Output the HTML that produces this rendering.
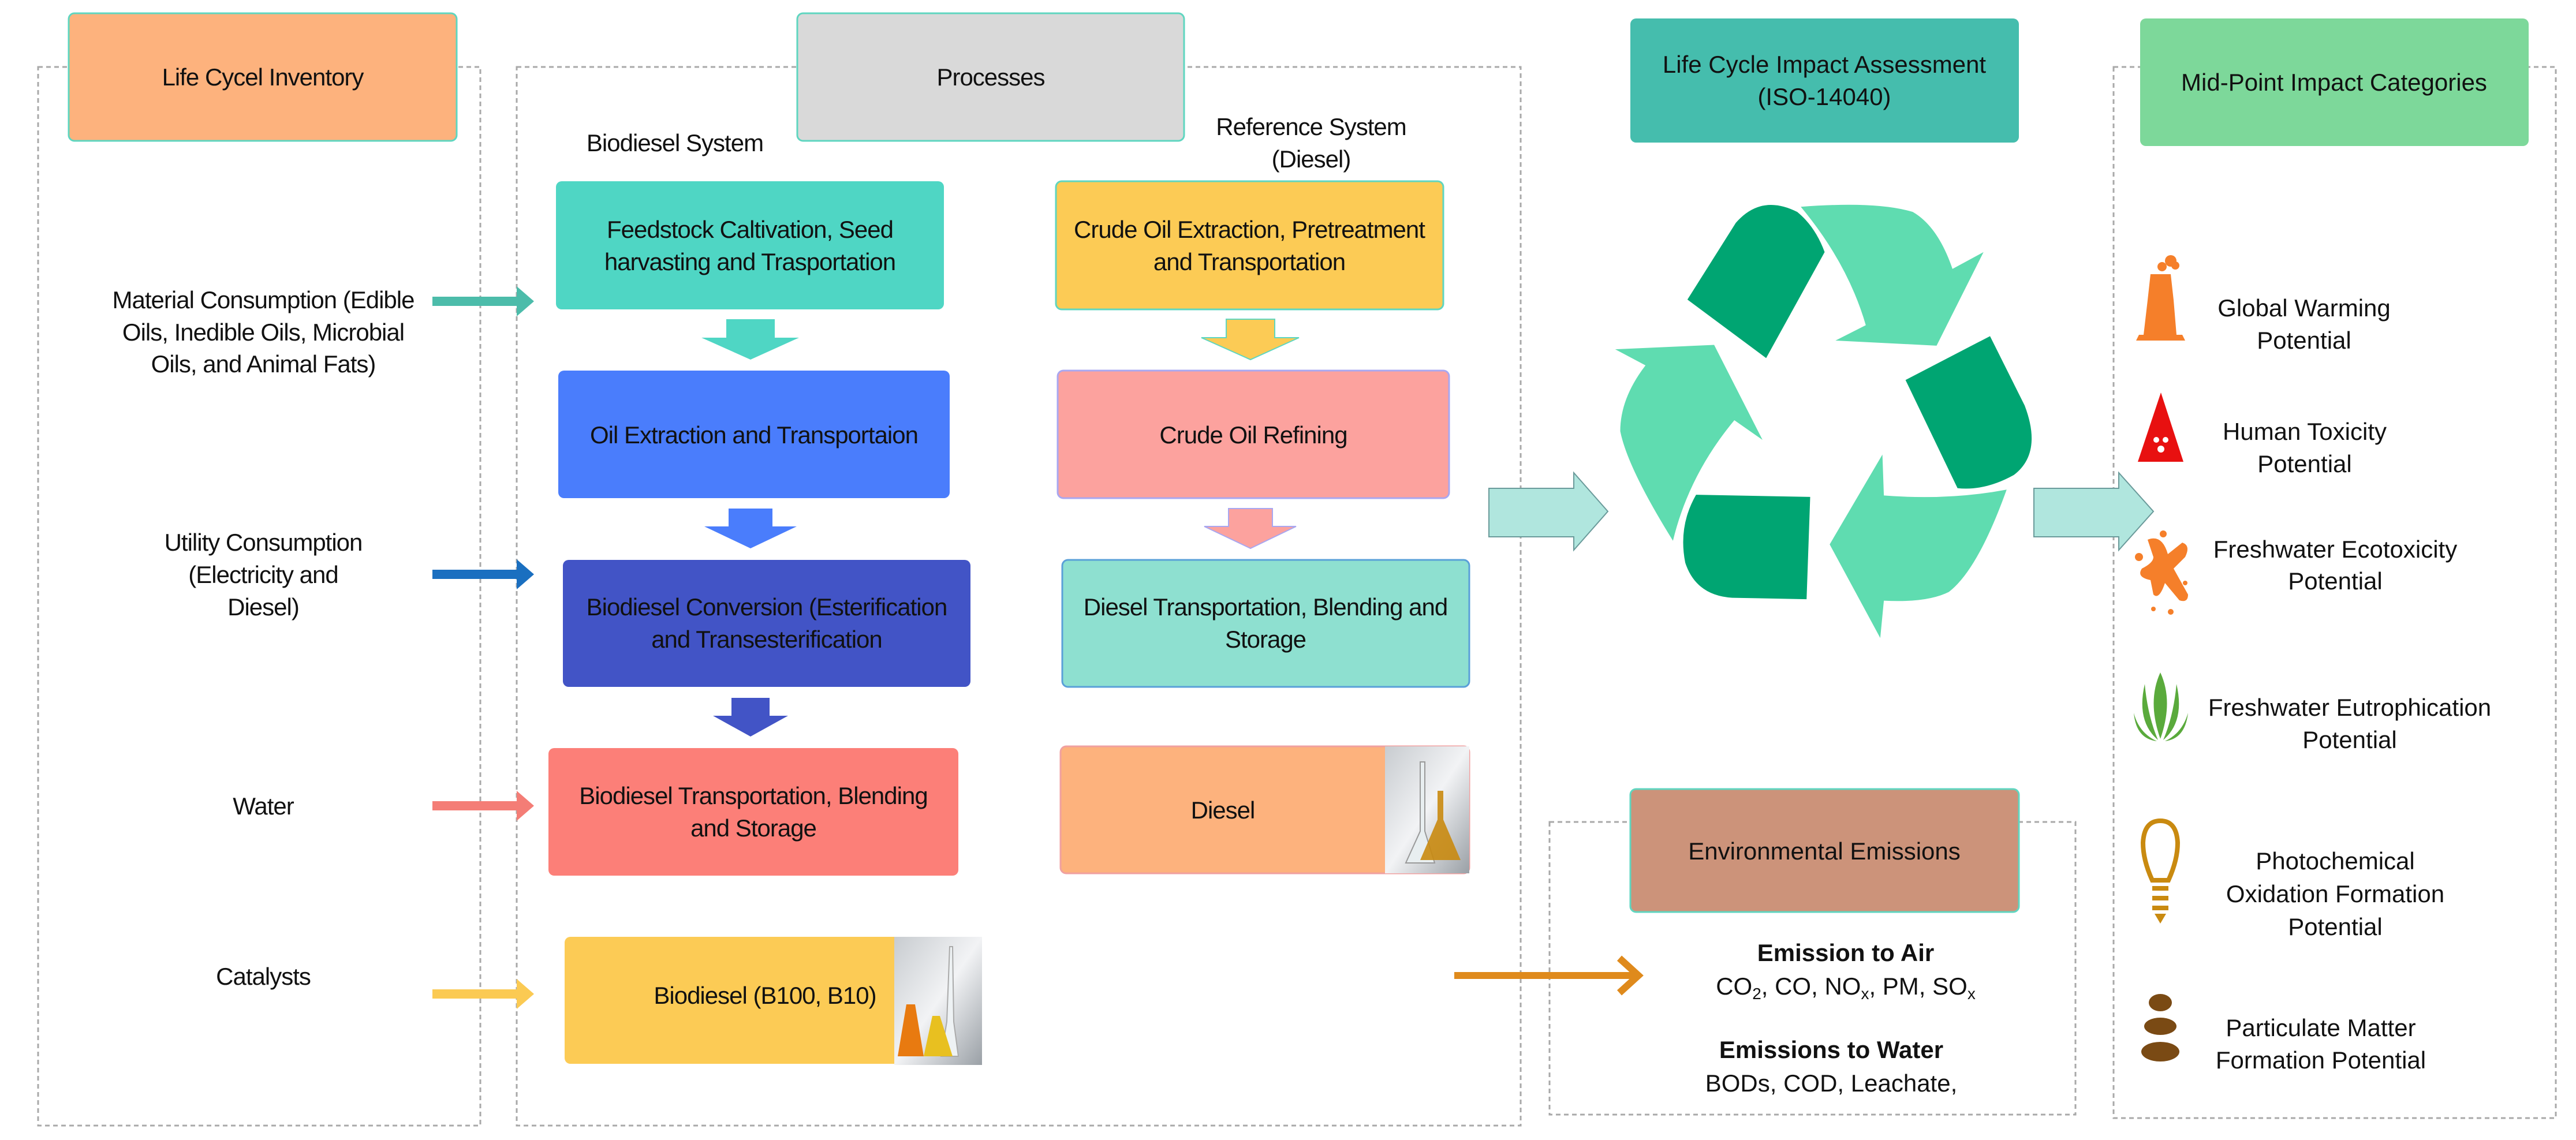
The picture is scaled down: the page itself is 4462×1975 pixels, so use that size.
<!DOCTYPE html>
<html><head><meta charset="utf-8"><style>
html,body{margin:0;padding:0;background:#fff;}
svg{display:block;}
text{font-family:"Liberation Sans",Arial,sans-serif;fill:#111;}
.t{font-size:42px;letter-spacing:-1px;}
.r{font-size:42px;}
</style></head><body>
<svg width="4462" height="1975" viewBox="0 0 4462 1975" xmlns="http://www.w3.org/2000/svg">
<defs>
<linearGradient id="img" x1="0" y1="0" x2="1" y2="1"><stop offset="0" stop-color="#c8ccd0"/><stop offset="0.5" stop-color="#f2f3f5"/><stop offset="1" stop-color="#9aa0a6"/></linearGradient>
</defs>
<!-- dashed panels -->
<g fill="none" stroke="#a9a9a9" stroke-width="3" stroke-dasharray="8,6">
<rect x="66" y="116" width="766" height="1834"/>
<rect x="895" y="116" width="1739" height="1834"/>
<rect x="3661" y="116" width="766" height="1821"/>
<rect x="2684" y="1424" width="911" height="507"/>
</g>
<!-- headers -->
<rect x="119" y="23" width="672" height="221" rx="10" fill="#fdb27d" stroke="#5fd6c0" stroke-width="3"/>
<text class="t" x="455" y="148" text-anchor="middle">Life Cycel Inventory</text>
<rect x="1381" y="23" width="670" height="221" rx="10" fill="#d9d9d9" stroke="#5fd6c0" stroke-width="3"/>
<text class="t" x="1716" y="148" text-anchor="middle">Processes</text>
<rect x="2824" y="32" width="673" height="215" rx="10" fill="#45bdad"/>
<text class="r" x="3160" y="126" text-anchor="middle">Life Cycle Impact Assessment</text>
<text class="r" x="3160" y="182" text-anchor="middle">(ISO-14040)</text>
<rect x="3707" y="32" width="673" height="221" rx="10" fill="#7dd89a"/>
<text class="r" x="4043" y="157" text-anchor="middle">Mid-Point Impact Categories</text>

<text class="t" x="1169" y="262" text-anchor="middle">Biodiesel System</text>
<text class="t" x="2271" y="234" text-anchor="middle">Reference System</text>
<text class="t" x="2271" y="290" text-anchor="middle">(Diesel)</text>

<!-- left texts -->
<g class="t" text-anchor="middle">
<text class="t" x="456" y="534">Material Consumption (Edible</text>
<text class="t" x="456" y="590">Oils, Inedible Oils, Microbial</text>
<text class="t" x="456" y="645">Oils, and Animal Fats)</text>
<text class="t" x="456" y="954">Utility Consumption</text>
<text class="t" x="456" y="1010">(Electricity and</text>
<text class="t" x="456" y="1066">Diesel)</text>
<text class="t" x="456" y="1411">Water</text>
<text class="t" x="456" y="1706">Catalysts</text>
</g>
<!-- left arrows -->
<g stroke-width="16">
<line x1="749" y1="522" x2="900" y2="522" stroke="#4cbcaa"/><polygon points="895,496 925,522 895,548" fill="#4cbcaa"/>
<line x1="749" y1="995" x2="900" y2="995" stroke="#1a6fc0"/><polygon points="895,969 925,995 895,1021" fill="#1a6fc0"/>
<line x1="749" y1="1396" x2="900" y2="1396" stroke="#f47d76"/><polygon points="895,1370 925,1396 895,1422" fill="#f47d76"/>
<line x1="749" y1="1722" x2="900" y2="1722" stroke="#fbca53"/><polygon points="895,1696 925,1722 895,1748" fill="#fbca53"/>
</g>

<!-- process boxes -->
<rect x="963" y="314" width="672" height="222" rx="10" fill="#4fd6c4"/>
<text class="t" x="1299" y="412" text-anchor="middle">Feedstock Caltivation, Seed</text>
<text class="t" x="1299" y="468" text-anchor="middle">harvasting and Trasportation</text>
<rect x="1829" y="314" width="671" height="222" rx="10" fill="#fccb55" stroke="#5fd6c0" stroke-width="3"/>
<text class="t" x="2164" y="412" text-anchor="middle">Crude Oil Extraction, Pretreatment</text>
<text class="t" x="2164" y="468" text-anchor="middle">and Transportation</text>

<polygon points="1258,553 1342,553 1342,585 1384,585 1300,623 1215,585 1258,585" fill="#4fd6c4"/>
<polygon points="2124,553 2208,553 2208,585 2250,585 2166,623 2081,585 2124,585" fill="#fccb55" stroke="#5fd6c0" stroke-width="2"/>

<rect x="967" y="642" width="678" height="221" rx="10" fill="#4a7dfc"/>
<text class="t" x="1306" y="768" text-anchor="middle">Oil Extraction and Transportaion</text>
<rect x="1832" y="642" width="678" height="221" rx="10" fill="#fca29e" stroke="#a9a7f0" stroke-width="3"/>
<text class="t" x="2171" y="768" text-anchor="middle">Crude Oil Refining</text>

<polygon points="1262,881 1338,881 1338,912 1380,912 1300,950 1220,912 1262,912" fill="#4a7dfc"/>
<polygon points="2128,881 2204,881 2204,912 2245,912 2166,950 2086,912 2128,912" fill="#fca29e" stroke="#a9a7f0" stroke-width="2"/>

<rect x="975" y="970" width="706" height="220" rx="10" fill="#4254c6"/>
<text class="t" x="1328" y="1066" text-anchor="middle">Biodiesel Conversion (Esterification</text>
<text class="t" x="1328" y="1122" text-anchor="middle">and Transesterification</text>
<rect x="1840" y="970" width="705" height="220" rx="10" fill="#8ee0d0" stroke="#5aa0d8" stroke-width="3"/>
<text class="t" x="2192" y="1066" text-anchor="middle">Diesel Transportation, Blending and</text>
<text class="t" x="2192" y="1122" text-anchor="middle">Storage</text>

<polygon points="1267,1209 1333,1209 1333,1240 1365,1240 1300,1276 1235,1240 1267,1240" fill="#4254c6"/>

<rect x="950" y="1296" width="710" height="221" rx="10" fill="#fc7f78"/>
<text class="t" x="1305" y="1393" text-anchor="middle">Biodiesel Transportation, Blending</text>
<text class="t" x="1305" y="1449" text-anchor="middle">and Storage</text>

<rect x="1837" y="1293" width="708" height="220" rx="10" fill="#fdb27d" stroke="#f0a0a0" stroke-width="3"/>
<rect x="2399" y="1293" width="146" height="220" fill="url(#img)"/>
<path d="M2460,1320 L2460,1440 L2435,1495 L2485,1495 L2468,1440 L2468,1320Z" fill="#e8eef0" stroke="#999" stroke-width="2"/>
<path d="M2490,1370 L2500,1370 L2500,1420 L2530,1490 L2460,1490 L2490,1420Z" fill="#c98a10" opacity="0.9"/>
<text class="t" x="2118" y="1418" text-anchor="middle">Diesel</text>

<rect x="978" y="1623" width="723" height="220" rx="10" fill="#fccb55"/>
<rect x="1549" y="1623" width="152" height="222" fill="url(#img)"/>
<path d="M1645,1640 L1650,1640 L1652,1770 L1660,1830 L1630,1830 L1640,1770Z" fill="#eef2f4" stroke="#aaa" stroke-width="2"/>
<path d="M1570,1740 L1585,1740 L1600,1830 L1555,1830Z" fill="#e87a10"/>
<path d="M1615,1760 L1628,1760 L1650,1830 L1600,1830Z" fill="#e8c020"/>
<text class="t" x="1325" y="1739" text-anchor="middle">Biodiesel (B100, B10)</text>

<!-- big arrows -->
<polygon points="2579,846 2726,846 2726,819 2785,886 2726,953 2726,930 2579,930" fill="#b0e6de" stroke="#6a9a9a" stroke-width="2"/>
<polygon points="3523,846 3670,846 3670,819 3730,886 3670,953 3670,930 3523,930" fill="#b0e6de" stroke="#6a9a9a" stroke-width="2"/>

<!-- recycle -->
<g transform="translate(2500,0) scale(1.251,1.266)">
<path d="M338,410 L405,305 Q440,265 490,290 Q515,310 528,345 L447,490 Z" fill="#00a572"/>
<path d="M495,283 Q600,275 650,290 Q685,310 705,368 L748,345 L683,473 L543,466 L585,445 Q560,360 495,283 Z" fill="#5fdcb0"/>
<path d="M640,520 L757,460 L805,555 Q830,620 790,650 Q750,672 712,668 Z" fill="#00a572"/>
<path d="M780,670 Q740,780 700,810 Q670,825 610,822 L605,873 L535,745 L608,622 L610,678 Q700,685 780,670 Z" fill="#5fdcb0"/>
<path d="M508,680 L503,820 L400,818 Q350,815 335,770 Q325,720 350,677 Z" fill="#00a572"/>
<path d="M318,740 Q255,640 245,590 Q245,545 280,500 L238,478 L375,472 L442,602 L403,575 Q340,650 318,740 Z" fill="#5fdcb0"/>
</g>

<!-- emissions -->
<rect x="2824" y="1367" width="673" height="213" rx="10" fill="#cc937a" stroke="#5fd6c0" stroke-width="3"/>
<text class="r" x="3160" y="1489" text-anchor="middle">Environmental Emissions</text>
<line x1="2519" y1="1690" x2="2830" y2="1690" stroke="#df8a1c" stroke-width="12"/>
<polyline points="2805,1660 2838,1690 2805,1720" fill="none" stroke="#df8a1c" stroke-width="12"/>
<text x="3197" y="1665" text-anchor="middle" font-size="42" font-weight="bold">Emission to Air</text>
<text x="3197" y="1723" text-anchor="middle" font-size="42">CO<tspan font-size="28" dy="8">2</tspan><tspan dy="-8">, CO, NO</tspan><tspan font-size="28" dy="8">x</tspan><tspan dy="-8">, PM, SO</tspan><tspan font-size="28" dy="8">x</tspan></text>
<text x="3172" y="1833" text-anchor="middle" font-size="42" font-weight="bold">Emissions to Water</text>
<text x="3172" y="1891" text-anchor="middle" font-size="42">BODs, COD, Leachate,</text>

<!-- impact icons -->
<g fill="#f57f2a">
<path d="M3700,590 L3785,590 L3780,580 L3770,580 L3765,520 L3760,475 L3725,475 L3720,520 L3713,580 L3705,580Z"/>
<circle cx="3745" cy="462" r="8"/><circle cx="3760" cy="452" r="10"/><circle cx="3768" cy="460" r="7"/>
</g>
<polygon points="3743,680 3782,800 3703,800" fill="#e81010"/>
<g fill="#fff"><circle cx="3743" cy="778" r="6"/><circle cx="3735" cy="762" r="5"/><circle cx="3751" cy="762" r="5"/></g>
<g fill="#f57f2a">
<path d="M3720,935 Q3745,925 3755,960 L3780,940 Q3795,945 3785,965 L3765,985 L3790,1030 Q3790,1045 3775,1040 L3750,1010 Q3740,1040 3730,1030 L3725,1005 Q3700,1000 3710,985 Q3730,975 3730,965 Z"/>
<circle cx="3705" cy="965" r="7"/><circle cx="3747" cy="925" r="6"/><circle cx="3760" cy="1060" r="5"/><circle cx="3730" cy="1055" r="4"/><circle cx="3785" cy="1010" r="4"/>
</g>
<g fill="#5aaa3c">
<path d="M3742,1165 Q3765,1215 3742,1280 Q3719,1215 3742,1165Z"/>
<path d="M3715,1185 Q3720,1240 3738,1282 Q3700,1250 3715,1185Z"/>
<path d="M3770,1185 Q3765,1240 3747,1282 Q3785,1250 3770,1185Z"/>
<path d="M3696,1235 Q3705,1270 3736,1284 Q3700,1280 3696,1235Z"/>
<path d="M3790,1235 Q3780,1270 3750,1284 Q3785,1280 3790,1235Z"/>
</g>
<g fill="none" stroke="#c98a10" stroke-width="8">
<path d="M3728,1525 Q3712,1490 3712,1460 Q3714,1422 3742,1422 Q3770,1422 3772,1460 Q3772,1490 3756,1525 Z"/>
</g>
<g fill="#c98a10"><rect x="3728" y="1535" width="28" height="8"/><rect x="3728" y="1552" width="28" height="8"/><rect x="3728" y="1569" width="28" height="8"/><path d="M3732,1583 L3752,1583 L3742,1600Z"/></g>
<g fill="#7a4a14">
<ellipse cx="3742" cy="1737" rx="20" ry="15"/>
<ellipse cx="3742" cy="1778" rx="28" ry="15"/>
<ellipse cx="3742" cy="1822" rx="33" ry="17"/>
</g>
<!-- impact labels -->
<g text-anchor="middle">
<text class="r" x="3991" y="548">Global Warming</text>
<text class="r" x="3991" y="604">Potential</text>
<text class="r" x="3992" y="762">Human Toxicity</text>
<text class="r" x="3992" y="818">Potential</text>
<text class="r" x="4045" y="966">Freshwater Ecotoxicity</text>
<text class="r" x="4045" y="1021">Potential</text>
<text class="r" x="4070" y="1240">Freshwater Eutrophication</text>
<text class="r" x="4070" y="1296">Potential</text>
<text class="r" x="4045" y="1506">Photochemical</text>
<text class="r" x="4045" y="1563">Oxidation Formation</text>
<text class="r" x="4045" y="1620">Potential</text>
<text class="r" x="4020" y="1795">Particulate Matter</text>
<text class="r" x="4020" y="1851">Formation Potential</text>
</g>
</svg>
</body></html>
